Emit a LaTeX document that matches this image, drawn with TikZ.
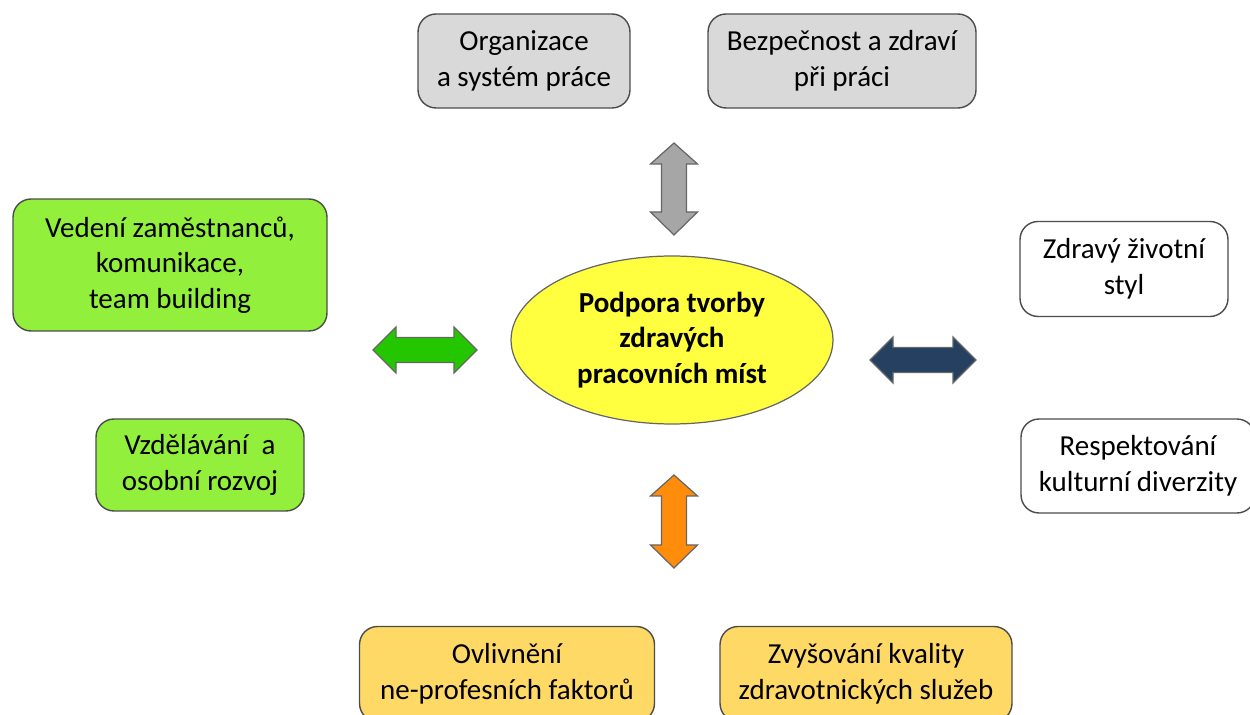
\documentclass[tikz,border=0pt]{standalone}
\usepackage{fontspec}
\setmainfont{Carlito}
\usetikzlibrary{shapes.geometric}
\definecolor{boxgray}{RGB}{217,217,217}
\definecolor{boxgreen}{RGB}{146,240,60}
\definecolor{boxorange}{RGB}{255,217,102}
\definecolor{ellyellow}{RGB}{255,255,64}
\definecolor{arrgray}{RGB}{166,166,166}
\definecolor{arrgreen}{RGB}{36,198,0}
\definecolor{arrnavy}{RGB}{37,64,97}
\definecolor{arrorange}{RGB}{255,140,10}
\tikzset{
  box/.style={draw=black!70, line width=0.8pt, rounded corners=0.36cm, align=center,
    inner sep=0pt, font=\fontsize{16.5}{20.2}\selectfont},
  blockarrow/.style={draw=black!60, line width=0.7pt, line join=miter}
}
\begin{document}
\begin{tikzpicture}[x=0.02cm, y=-0.02cm]
  \useasboundingbox (0,0) rectangle (1250,715);
  % top
  \node[box, fill=boxgray, minimum width=4.24cm, minimum height=1.88cm] (org) at (524,61) {Organizace\\a systém práce};
  \node[box, fill=boxgray, minimum width=5.36cm, minimum height=1.88cm] (bozp) at (842,61) {Bezpečnost a zdraví\\při práci};
  % left
  \node[box, fill=boxgreen, minimum width=6.28cm, minimum height=2.64cm] (vedeni) at (170,265) {Vedení zaměstnanců,\\komunikace,\\team building};
  \node[box, fill=boxgreen, minimum width=4.16cm, minimum height=1.84cm] (vzdel) at (200,465) {Vzdělávání~~a\\osobní rozvoj};
  % right
  \node[box, fill=white, minimum width=4.16cm, minimum height=1.9cm] (zdrav) at (1124,269) {Zdravý životní\\styl};
  \node[box, fill=white, minimum width=4.68cm, minimum height=1.88cm] (resp) at (1138,466) {Respektování\\kulturní diverzity};
  % bottom
  \node[box, fill=boxorange, minimum width=5.9cm, minimum height=1.9cm] (ovl) at (507,674) {Ovlivnění\\ne-profesních faktorů};
  \node[box, fill=boxorange, minimum width=5.84cm, minimum height=1.9cm] (kval) at (866,674) {Zvyšování kvality\\zdravotnických služeb};
  % centre
  \node[ellipse, draw=black!60, line width=0.7pt, fill=ellyellow, minimum width=6.44cm, minimum height=3.36cm,
    inner sep=0pt, align=center, font=\fontsize{16.5}{20.2}\selectfont\bfseries] (podpora) at (672,340)
    {Podpora tvorby\\zdravých\\pracovních míst};
  % vertical block arrows
  \foreach \ya/\yb/\col in {143/235/arrgray, 475/568/arrorange}
  {
    \draw[blockarrow, fill=\col] (674,\ya) -- (697.5,\ya+21) -- (686.5,\ya+21) -- (686.5,\yb-23)
      -- (697.5,\yb-23) -- (674,\yb) -- (650.5,\yb-23) -- (661.5,\yb-23) -- (661.5,\ya+21)
      -- (650.5,\ya+21) -- cycle;
  }
  % horizontal block arrows
  \foreach \xa/\xb/\yc/\col in {373/477/350/arrgreen, 870/976/360/arrnavy}
  {
    \draw[blockarrow, fill=\col] (\xa,\yc) -- (\xa+23,\yc-23) -- (\xa+23,\yc-12.5) -- (\xb-23,\yc-12.5)
      -- (\xb-23,\yc-23) -- (\xb,\yc) -- (\xb-23,\yc+23) -- (\xb-23,\yc+12.5) -- (\xa+23,\yc+12.5)
      -- (\xa+23,\yc+23) -- cycle;
  }
\end{tikzpicture}
\end{document}
